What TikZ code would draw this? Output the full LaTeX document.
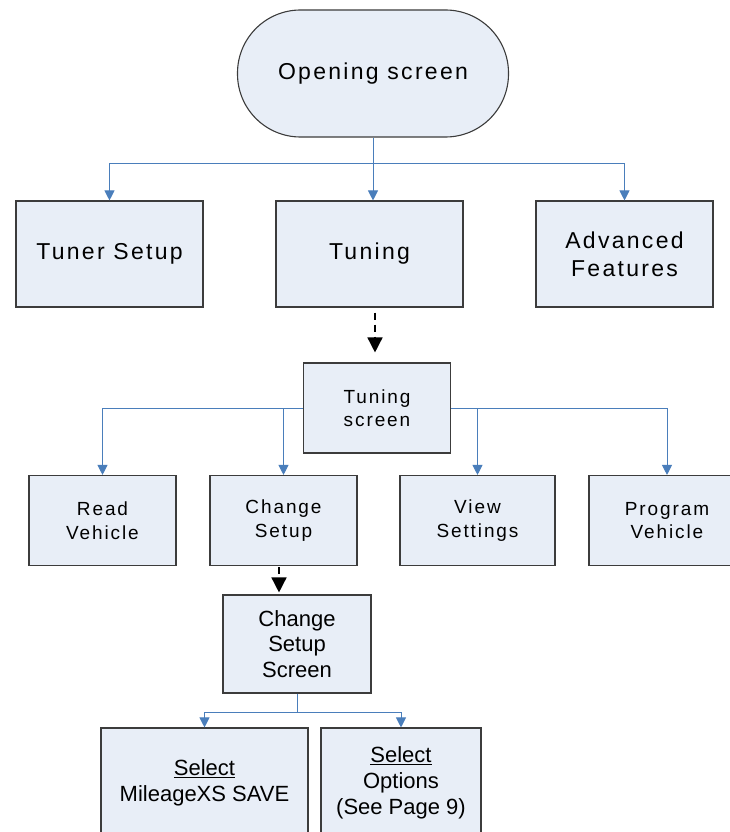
\documentclass[tikz,border=0pt]{standalone}
\usepackage{fontspec}
\setmainfont{Liberation Sans}
\newfontfamily\spaced[LetterSpace=10]{Liberation Sans}
\usetikzlibrary{shapes,arrows,arrows.meta}
\definecolor{boxfill}{RGB}{232,238,247}
\definecolor{boxline}{RGB}{60,60,60}
\definecolor{linkblue}{RGB}{74,126,187}
\tikzstyle{block} = [rectangle, draw=boxline, fill=boxfill, line width=1.1pt,
align=center, inner sep=0pt]
\tikzstyle{big} = [font=\spaced\fontsize{23}{28}\selectfont]
\tikzstyle{small} = [font=\spaced\fontsize{19}{23.5}\selectfont]
\tikzstyle{plain} = [font=\fontsize{22}{25.7}\selectfont]
\tikzstyle{line} = [draw=linkblue, line width=1pt, -{Triangle[width=10pt,length=10pt]}]
\tikzstyle{dashline} = [draw, line width=1.5pt, dash pattern=on 7pt off 5pt,
-{Triangle[width=15pt,length=15pt]}]

\begin{document}
\begin{tikzpicture}[x=1pt, y=-1pt]
\useasboundingbox (0,0) rectangle (730,832);
\clip (0,0) rectangle (730,832);
% Place nodes
\node [block, big, rounded corners=63pt, minimum width=271pt, minimum height=127pt] (open) at (373,73.5) {Opening screen};
\node [block, big, minimum width=187pt, minimum height=106pt] (tuner) at (109.5,254) {Tuner Setup};
\node [block, big, minimum width=187pt, minimum height=106pt] (tuning) at (369.5,254) {Tuning};
\node [block, big, minimum width=177pt, minimum height=106pt] (adv) at (624.5,254) {Advanced\\Features};
\node [block, small, minimum width=147pt, minimum height=90pt] (tscreen) at (377,408) {Tuning\\screen};
\node [block, small, minimum width=147pt, minimum height=90pt] (read) at (102.5,520.5) {Read\\Vehicle};
\node [block, small, minimum width=147pt, minimum height=90pt] (change) at (283.5,520.5) {Change\\Setup};
\node [block, small, minimum width=155pt, minimum height=90pt] (view) at (477.5,520.5) {View\\Settings};
\node [block, small, minimum width=156pt, minimum height=90pt] (prog) at (667,520.5) {Program\\Vehicle};
\node [block, plain, minimum width=148pt, minimum height=98pt] (csscreen) at (297,644) {Change\\Setup\\Screen};
\node [block, plain, minimum width=207pt, minimum height=110pt] (sel1) at (204.5,783) {\underline{Select}\\MileageXS SAVE};
\node [block, plain, minimum width=160pt, minimum height=110pt] (sel2) at (401,783) {\underline{Select}\\Options\\(See Page 9)};
\coordinate (bar1) at (373,163);
\coordinate (bar3) at (297,712);
% Draw edges
\path [line] (open) -- (open |- tuning.north);
\path [line] (bar1) -| (tuner);
\path [line] (bar1) -| (adv);
\path [dashline] ([xshift=5.5pt,yshift=-5pt]tuning.south) -- ([xshift=-2pt,yshift=10pt]tscreen.north);
\path [line] (tscreen.west) -| (read);
\path [line] (tscreen.west) -| (change);
\path [line] (tscreen.east) -| (view);
\path [line] (tscreen.east) -| (prog);
\path [dashline] ([xshift=-4.5pt,yshift=-1pt]change.south) -- ([xshift=-18pt,yshift=2pt]csscreen.north);
\path [draw=linkblue, line width=1pt] (csscreen) -- (bar3);
\path [line] (bar3) -| (sel1);
\path [line] (bar3) -| (sel2);
\end{tikzpicture}
\end{document}
